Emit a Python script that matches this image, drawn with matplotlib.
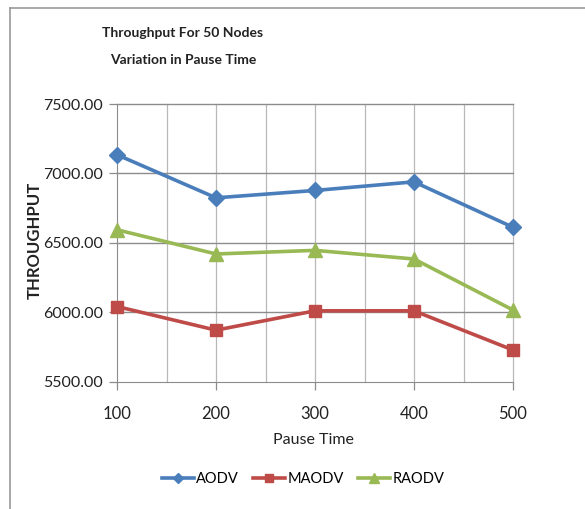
import matplotlib
matplotlib.use("Agg")
import matplotlib.pyplot as plt
from matplotlib.lines import Line2D

pause_time = [100, 200, 300, 400, 500]
aodv = [7135, 6825, 6878, 6940, 6613]
maodv = [6043, 5873, 6012, 6012, 5730]
raodv = [6595, 6421, 6447, 6385, 6018]
y_ticks = [5500, 6000, 6500, 7000, 7500]
x_ticks = [100, 200, 300, 400, 500]

FONT = ["Lato", "DejaVu Sans"]
plt.rcParams['font.family'] = FONT

fig = plt.figure(figsize=(5.85, 5.09), dpi=100)
fig.patch.set_facecolor("white")

# outer border (top and left visible)
fig.add_artist(Line2D([10/585, 1.0], [1-8/509, 1-8/509], color="#9a9a9a", lw=1.2))
fig.add_artist(Line2D([10/585, 10/585], [1-8/509, 0.0], color="#9a9a9a", lw=1.2))

ax = fig.add_axes([117/585, 1-382/509, 396/585, 278/509])
ax.set_xlim(100, 500)
ax.set_ylim(5500, 7500)

# gridlines
for xv in range(150, 501, 50):
    ax.axvline(xv, color="#b8b8b8", lw=0.9, zorder=0, clip_on=False)
for yv in y_ticks[1:]:
    ax.axhline(yv, color="#8c8c8c", lw=1.0, zorder=0, clip_on=False)

for s in ["top", "right"]:
    ax.spines[s].set_visible(False)
ax.spines["left"].set_color("#8c8c8c")
ax.spines["bottom"].set_color("#8c8c8c")

ax.set_xticks(x_ticks)
ax.set_yticks(y_ticks)
ax.set_yticklabels([f"{v:.2f}" for v in y_ticks])
ax.tick_params(axis="both", labelsize=11.5, colors="#8c8c8c", length=6, width=0.9,
               labelcolor="#222222")
ax.tick_params(axis="x", labelsize=12, pad=11)
ax.tick_params(axis="y", pad=4)

ax.plot(pause_time, aodv, color="#4a7ebb", lw=2.6, marker="D", ms=8, label="AODV", zorder=3, clip_on=False)
ax.plot(pause_time, maodv, color="#be4b48", lw=2.6, marker="s", ms=9, label="MAODV", zorder=3, clip_on=False)
ax.plot(pause_time, raodv, color="#98b954", lw=2.6, marker="^", ms=10, label="RAODV", zorder=3, clip_on=False)

ax.set_xlabel("Pause Time", fontsize=11.5, color="#222222")
ax.xaxis.set_label_coords((313 - 117) / 396, -(440 - 382) / 278)
ax.xaxis.label.set_va("center")
ax.set_ylabel("THROUGHPUT", fontsize=12, fontweight="bold", color="#222222")
ax.yaxis.set_label_coords(-(117 - 35) / 396, (382 - 240) / 278)
ax.yaxis.label.set_va("center")

fig.text(183/585, 1-33/509, "Throughput For 50 Nodes", ha="center", va="center",
         fontsize=10, fontweight="bold", color="#222222")
fig.text(183/585, 1-60/509, "Variation in Pause Time", ha="center", va="center",
         fontsize=10, fontweight="bold", color="#222222")

fig.legend(loc="center", bbox_to_anchor=(303/585, 1-479/509), ncol=3, frameon=False,
           fontsize=10.5, handlelength=2.2, columnspacing=1.0, handletextpad=0.15,
           markerscale=0.7)

fig.savefig("out.png", dpi=100)
